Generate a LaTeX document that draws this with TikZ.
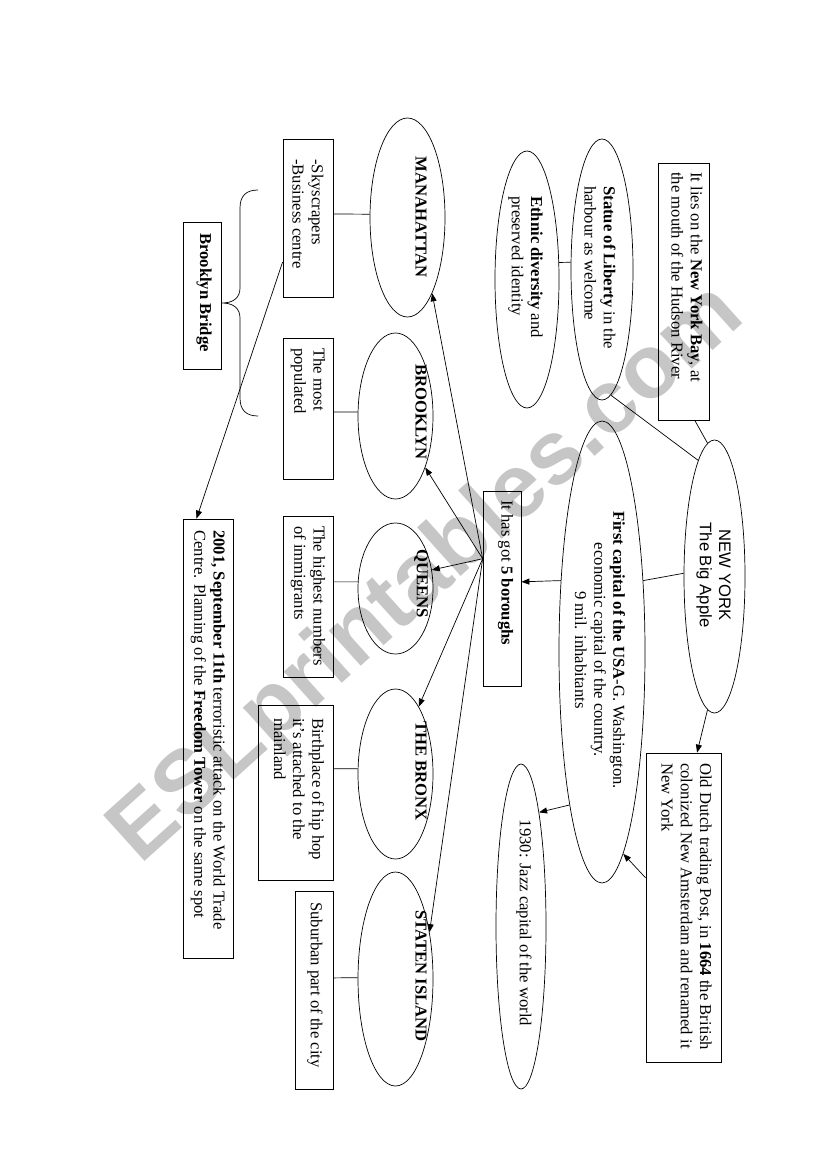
\documentclass[tikz,border=0pt]{standalone}
\usepackage{fontspec}
\setmainfont{Liberation Serif}
\newfontfamily\arialf{Liberation Sans}
\usetikzlibrary{shapes.geometric,arrows.meta}
\newcommand\fs{\fontsize{16.66}{19.2}\selectfont}
\definecolor{wm}{RGB}{198,198,198}
\tikzset{
  box/.style={draw, rectangle, rotate=-90, inner sep=0pt, line width=0.7pt},
  ell/.style={draw, ellipse, rotate=-90, inner sep=0pt, line width=0.7pt},
  txt/.style={rotate=-90, inner sep=0pt, font=\fs, align=left},
  ctxt/.style={rotate=-90, inner sep=0pt, font=\fs, align=center},
  con/.style={line width=0.7pt},
  arr/.style={con, -{Triangle[length=8pt,width=6pt]}}
}
\begin{document}
\begin{tikzpicture}[x=1pt,y=-1pt]
\useasboundingbox (0,0) rectangle (826,1169);
% watermark
\node[rotate=42, text=wm, font=\arialf\bfseries\fontsize{90}{90}\selectfont, inner sep=0pt] (wmark) at (428,575) {ESLprintables.com};

% shapes
\node[box, minimum width=257, minimum height=51] (lies) at (683.5,291.5) {};
\node[ell, minimum width=261, minimum height=62] (statue) at (602,269.5) {};
\node[ell, minimum width=257, minimum height=64] (ethnic) at (527,279.5) {};
\node[ell, minimum width=273, minimum height=61] (ny) at (714.5,576.5) {};
\node[ell, minimum width=462, minimum height=86] (fc) at (602,652) {};
\node[box, minimum width=195, minimum height=38] (bor) at (502,588.5) {};
\node[box, minimum width=309, minimum height=75] (dutch) at (683.5,907.5) {};
\node[ell, minimum width=325, minimum height=50] (jazz) at (521,926.5) {};
\node[ell, minimum width=199, minimum height=75] (man) at (407.5,217.5) {};
\node[box, minimum width=158, minimum height=50] (sky) at (308,218) {};
\node[box, minimum width=147, minimum height=38] (bb) at (202,295.5) {};
\node[ell, minimum width=166, minimum height=75] (brook) at (395.5,416) {};
\node[box, minimum width=141, minimum height=50] (pop) at (308,408.5) {};
\node[ell, minimum width=131, minimum height=75] (queens) at (395.5,588.5) {};
\node[box, minimum width=161, minimum height=50] (imm) at (308,596.5) {};
\node[ell, minimum width=170, minimum height=75] (bronx) at (395.5,774) {};
\node[box, minimum width=175, minimum height=75] (hip) at (295.5,792.5) {};
\node[ell, minimum width=214, minimum height=75] (staten) at (395.5,979) {};
\node[box, minimum width=198, minimum height=38] (sub) at (314,990) {};
\node[box, minimum width=439, minimum height=50] (wtc) at (208,738.5) {};

% texts
\node[txt, anchor=west] (tlies) at (687,172) {It lies on the \textbf{New York Bay}, at\\the mouth of the Hudson River};
\node[txt, anchor=west] (tstatue) at (600,186) {\textbf{Statue of Liberty} in the\\harbour as welcome};
\node[txt, anchor=west] (tethnic) at (525.5,196) {\textbf{Ethnic diversity} and\\preserved identity};
\node[ctxt, font=\arialf\fs] (tny) at (713.5,575) {NEW YORK\\The Big Apple};
\node[ctxt] (tfc) at (600,650) {\textbf{First capital of the USA}-G. Washington.\\economic capital of the country.\\9 mil. inhabitants};
\node[txt, anchor=west] (tbor) at (505.5,500) {It has got \textbf{5 boroughs}};
\node[txt, anchor=west] (tdutch) at (686.5,763) {Old Dutch trading Post, in \textbf{1664} the British\\colonized New Amsterdam and renamed it\\New York};
\node[ctxt] (tjazz) at (524,923) {1930: Jazz capital of the world};
\node[ctxt, font=\fs\bfseries] (tman) at (421,217) {MANAHATTAN};
\node[ctxt, font=\fs\bfseries] (tbrook) at (421,412) {BROOKLYN};
\node[ctxt, font=\fs\bfseries] (tqueens) at (421,584) {QUEENS};
\node[ctxt, font=\fs\bfseries] (tbronx) at (421,771) {THE BRONX};
\node[ctxt, font=\fs\bfseries] (tstaten) at (421,976) {STATEN ISLAND};
\node[txt, anchor=west] (tsky) at (308,159) {-Skyscrapers\\-Business centre};
\node[txt, anchor=west] (tpop) at (308,348) {The most\\populated};
\node[txt, anchor=west] (timm) at (308,526) {The highest numbers\\of immigrants};
\node[txt, anchor=west] (thip) at (299,718) {Birthplace of hip hop\\it's attached to the\\mainland};
\node[txt, anchor=west] (tsub) at (315,902) {Suburban part of the city};
\node[txt, anchor=west] (twtc) at (208,530) {\textbf{2001, September 11th} terroristic attack on the World Trade\\Centre. Planning of the \textbf{Freedom Tower} on the same spot};
\node[ctxt, font=\fs\bfseries] (tbb) at (204,292.5) {Brooklyn Bridge};

% brace
\draw[con] (258,190) .. controls (246,190) and (240,196) .. (240,208) -- (240,288)
  .. controls (240,298) and (233,303) .. (222,303)
  .. controls (233,303) and (240,308) .. (240,318) -- (240,398)
  .. controls (240,410) and (246,416) .. (258,416);

% connectors
\draw[con] (lies.5) -- (ny.183);
\draw[con] (statue.4.6) -- (ny.188);
\draw[con] (statue.257) -- (ethnic.118);
\draw[con] (ny.264) -- (fc.150);
\draw[arr] (fc.210) -- (bor.109);
\draw[arr] (ny.357) -- (dutch.175);
\draw[arr] (dutch.232) -- (fc.6);
\draw[arr] (fc.348) -- (jazz.171.5);
\draw[arr] (bor.213.7) -- (man.18);
\draw[arr] (bor.213.7) -- (brook.30);
\draw[arr] (bor.213.7) -- (queens.117);
\draw[arr] (bor.213.7) -- (bronx.161);
\draw[arr] (bor.213.7) -- (staten.144);
\draw[con] (sky.99) -- (man.265);
\draw[con] (pop.82) -- (brook.264);
\draw[con] (imm.120) -- (queens.260);
\draw[con] (hip.122) -- (bronx.262);
\draw[con] (sub.122) -- (staten.268.5);
\draw[arr] (sky.330.4) -- (wtc.183.4);
\end{tikzpicture}
\end{document}
